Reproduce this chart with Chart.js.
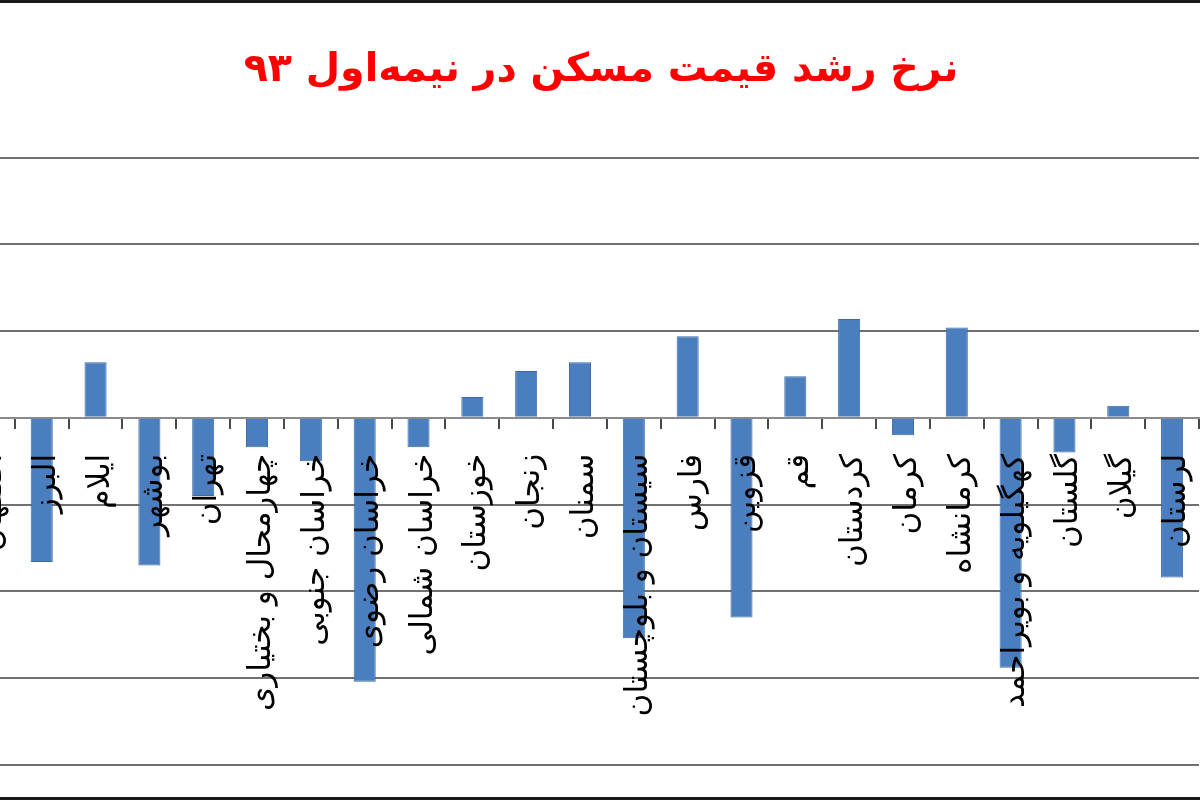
<!DOCTYPE html>
<html>
<head>
<meta charset="utf-8">
<script src="https://cdn.jsdelivr.net/npm/chart.js@4.4.1/dist/chart.umd.min.js"></script>
<style>
  html, body { margin: 0; padding: 0; background: #ffffff; }
  #frame { position: absolute; left: 0; top: 0; width: 1200px; height: 800px; overflow: hidden; background: #ffffff; }
  #topBorder { position: absolute; left: 0; top: 0; width: 1200px; height: 3px; background: #1a1a1a; }
  #bottomBorder { position: absolute; left: 0; top: 797px; width: 1200px; height: 3px; background: #1a1a1a; }
  #wrap { position: absolute; left: -39px; top: 3px; width: 1280px; height: 794px; }
</style>
</head>
<body>
<div id="frame">
  <div id="wrap"><canvas id="c" width="1280" height="794"></canvas></div>
  <div id="topBorder"></div>
  <div id="bottomBorder"></div>
</div>
<script>
// Title
const chartTitle = 'نرخ رشد قیمت مسکن در نیمه\u200cاول ۹۳';

// Provinces (categories), left to right as in the picture
const provinces = [
  'اصفهان', 'البرز', 'ایلام', 'بوشهر', 'تهران', 'چهارمحال و بختیاری',
  'خراسان جنوبی', 'خراسان رضوی', 'خراسان شمالی', 'خوزستان', 'زنجان',
  'سمنان', 'سیستان و بلوچستان', 'فارس', 'قزوین', 'قم', 'کردستان',
  'کرمان', 'کرمانشاه', 'کهگیلویه و بویراحمد', 'گلستان', 'گیلان', 'لرستان'
];

// Growth rate (%); first one is cut off in the picture
const growthRate = [
  null, -8.3, 3.2, -8.5, -4.5, -1.7,
  -2.5, -15.2, -1.7, 1.2, 2.7,
  3.2, -12.7, 4.7, -11.5, 2.4, 5.7,
  -1.0, 5.2, -14.4, -2.0, 0.7, -9.2
];

// Value axis range and gridline step
const yMin = -20;
const yMax = 15;
const yStep = 5;

new Chart(document.getElementById('c'), {
  type: 'bar',
  data: {
    labels: provinces,
    datasets: [{
      data: growthRate,
      backgroundColor: '#4a7ebf',
      borderColor: '#3b6aa8',
      borderWidth: 1,
      categoryPercentage: 1.0,
      barPercentage: 0.41,
      yAxisID: 'y'
    }]
  },
  options: {
    responsive: false,
    animation: false,
    devicePixelRatio: 1,
    layout: { padding: { left: 0, right: 0, top: 0, bottom: 32 } },
    plugins: {
      legend: { display: false },
      tooltip: { enabled: false },
      title: {
        display: true,
        text: chartTitle,
        color: '#ff0000',
        font: { family: 'DejaVu Sans', size: 39.6, weight: 'bold', lineHeight: 1.2 },
        padding: { top: 44, bottom: 63 }
      }
    },
    scales: {
      x: {
        position: { y: 0 },
        grid: {
          display: true,
          drawOnChartArea: false,
          drawTicks: true,
          tickLength: 10,
          color: '#4a4a4a',
          lineWidth: 2,
          offset: true
        },
        border: { display: true, color: '#8a8a8a', width: 2 },
        ticks: {
          z: 1,
          autoSkip: false,
          minRotation: 90,
          maxRotation: 90,
          padding: 26,
          labelOffset: 5,
          color: '#000000',
          font: { family: 'DejaVu Sans', size: 31, lineHeight: 1.2 }
        },
        afterFit: (s) => { s.paddingLeft = 0; s.paddingRight = 0; }
      },
      y: {
        min: yMin,
        max: yMax,
        ticks: { stepSize: yStep, display: false },
        grid: { color: '#707070', lineWidth: 2, drawTicks: false },
        border: { display: false },
        afterFit: (s) => { s.width = 0; s.paddingTop = 0; s.paddingBottom = 0; }
      },
      yRightSpace: {
        type: 'linear',
        position: 'right',
        min: yMin,
        max: yMax,
        ticks: { display: false },
        grid: { display: false, drawTicks: false },
        border: { display: false },
        afterFit: (s) => { s.width = 42; s.paddingTop = 0; s.paddingBottom = 0; }
      }
    }
  }
});
</script>
</body>
</html>
